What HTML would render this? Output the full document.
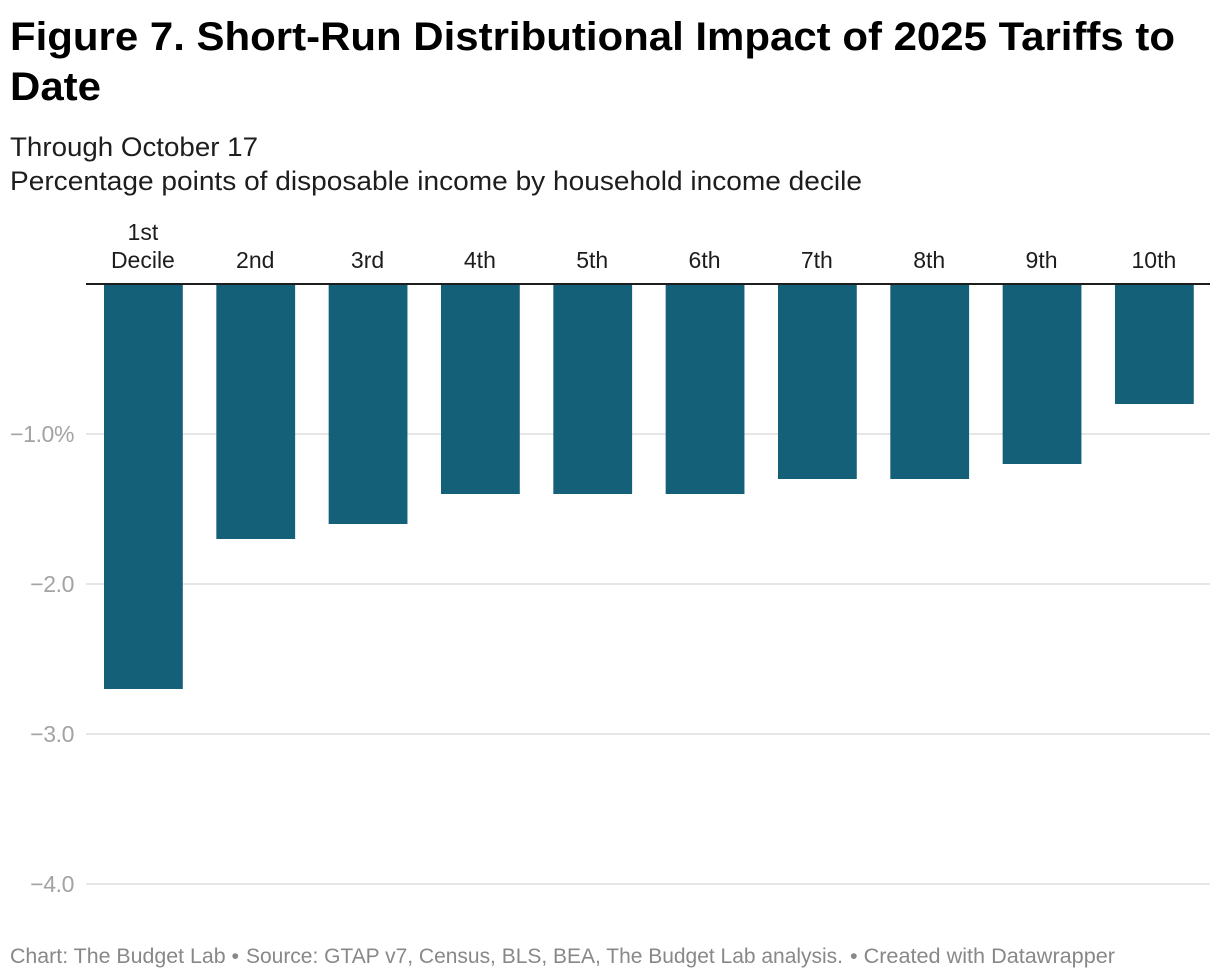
<!DOCTYPE html>
<html lang="en">
<head>
<meta charset="utf-8">
<title>Figure 7. Short-Run Distributional Impact of 2025 Tariffs to Date</title>
<style>
html,body{margin:0;padding:0;background:#fff;}
svg{display:block;font-family:"Liberation Sans",Arial,sans-serif;}
.title{font-size:40px;font-weight:700;fill:#000;}
.sub{font-size:27px;fill:#1d1d1d;}
.xlab{font-size:23px;fill:#1d1d1d;text-anchor:middle;}
.ylab{font-size:23px;fill:#a3a3a3;text-anchor:end;letter-spacing:-0.4px;}
.foot{font-size:21px;fill:#888;}
</style>
</head>
<body>
<svg id="chart" xmlns="http://www.w3.org/2000/svg" width="1220" height="980" viewBox="0 0 1220 980">
  <text class="title" x="10" y="50" textLength="1165" lengthAdjust="spacingAndGlyphs">Figure 7. Short-Run Distributional Impact of 2025 Tariffs to</text>
  <text class="title" x="10" y="100" textLength="91" lengthAdjust="spacingAndGlyphs">Date</text>
  <text class="sub" x="10" y="156" textLength="248" lengthAdjust="spacingAndGlyphs">Through October 17</text>
  <text class="sub" x="10" y="190" textLength="852" lengthAdjust="spacingAndGlyphs">Percentage points of disposable income by household income decile</text>
  <g id="grid"></g>
  <g id="bars"></g>
  <g id="xlabels"></g>
  <g id="ylabels"></g>
  <line x1="86" x2="1210" y1="284" y2="284" stroke="#1d1d1d" stroke-width="2"></line>
  <g>
    <text class="foot" x="10" y="963" textLength="229" lengthAdjust="spacingAndGlyphs">Chart: The Budget Lab •</text>
    <text class="foot" x="246" y="963" textLength="597" lengthAdjust="spacingAndGlyphs">Source: GTAP v7, Census, BLS, BEA, The Budget Lab analysis.</text>
    <text class="foot" x="850" y="963" textLength="265" lengthAdjust="spacingAndGlyphs">• Created with Datawrapper</text>
  </g>
</svg>
<script>
const categories = ['1st Decile', '2nd', '3rd', '4th', '5th', '6th', '7th', '8th', '9th', '10th'];
const values = [-2.7, -1.7, -1.6, -1.4, -1.4, -1.4, -1.3, -1.3, -1.2, -0.8];
const yTicks = [-1, -2, -3, -4];
const yTickLabels = ['−1.0%', '−2.0', '−3.0', '−4.0'];

const NS = 'http://www.w3.org/2000/svg';
const yScale = function (v) { return 284 - v * 150; };
const xBand = function (i) { return 104 + i * 112.33; };
const barWidth = 78.8;

function make(tag, attrs, parent) {
  const el = document.createElementNS(NS, tag);
  Object.keys(attrs).forEach(function (k) { el.setAttribute(k, attrs[k]); });
  parent.appendChild(el);
  return el;
}

const gridG = document.getElementById('grid');
const barsG = document.getElementById('bars');
const xG = document.getElementById('xlabels');
const yG = document.getElementById('ylabels');

yTicks.forEach(function (t, i) {
  const line = make('line', { x1: 86, x2: 1210, y1: yScale(t), y2: yScale(t), stroke: '#e6e6e6', 'stroke-width': 2 }, gridG);
  
  
  const label = make('text', { class: 'ylab', x: 74, y: yScale(t) + 8 }, yG);
  
  
  label.textContent = yTickLabels[i];
});

categories.forEach(function (c, i) {
  const y0 = yScale(0);
  const y1 = yScale(values[i]);
  const bar = make('rect', { x: xBand(i), y: y0, width: barWidth, height: y1 - y0, fill: '#156079' }, barsG);
  
  

  const words = c.split(' ');
  const cx = xBand(i) + barWidth / 2 - 0.5;
  words.forEach(function (w, j) {
    const t = make('text', { class: 'xlab', x: cx, y: 268 - (words.length - 1 - j) * 28 }, xG);
    
    
    t.textContent = w;
  });
});
</script>
</body>
</html>
